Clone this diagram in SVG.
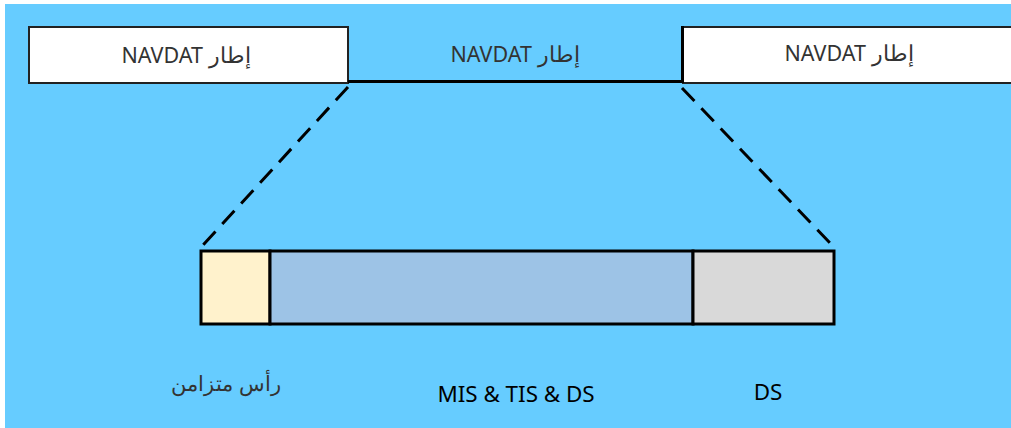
<svg xmlns="http://www.w3.org/2000/svg" width="1011" height="428" viewBox="0 0 1011 428">
<style>
.t{font-family:"Noto Sans","Open Sans",sans-serif;font-size:21.5px;text-anchor:middle}
.b{font-size:22.4px}
.a{font-size:21px}
.box{fill:#fff;stroke:#222;stroke-width:2}
.seg{stroke:#000;stroke-width:3}
.dash{stroke:#000;stroke-width:3;stroke-dasharray:18,10;fill:none}
</style>
<rect x="0" y="0" width="1011" height="428" fill="#fff"/>
<rect x="5" y="4" width="1006" height="424" fill="#66CCFF"/>
<g id="frame-left">
<rect class="box" x="29" y="27" width="319" height="56"/>
<text class="t" x="186" y="63" fill="#333">NAVDAT إطار</text>
</g>
<g id="frame-mid">
<text class="t" x="515" y="62" fill="#333">NAVDAT إطار</text>
</g>
<g id="frame-right">
<rect class="box" x="683" y="27" width="340" height="56"/>
<text class="t" x="849" y="61" fill="#333">NAVDAT إطار</text>
</g>
<g id="connectors">
<line x1="348" y1="81.5" x2="683" y2="81.5" stroke="#000" stroke-width="3"/>
<line x1="682.5" y1="26" x2="682.5" y2="83" stroke="#000" stroke-width="3"/>
<line class="dash" x1="348" y1="87" x2="203" y2="245"/>
<line class="dash" x1="682" y1="88" x2="830" y2="243"/>
</g>
<g id="sync-header">
<rect class="seg" x="201" y="251" width="69" height="73" fill="#FFF2CC"/>
<text class="t a" x="226" y="391" fill="#333">رأس متزامن</text>
</g>
<g id="mis-tis-ds">
<rect class="seg" x="270" y="251" width="423" height="73" fill="#9DC3E6"/>
<text class="t b" x="516" y="402" fill="#000">MIS &amp; TIS &amp; DS</text>
</g>
<g id="ds">
<rect class="seg" x="693" y="251" width="141" height="73" fill="#D9D9D9"/>
<text class="t b" x="768" y="400" fill="#000">DS</text>
</g>
</svg>
